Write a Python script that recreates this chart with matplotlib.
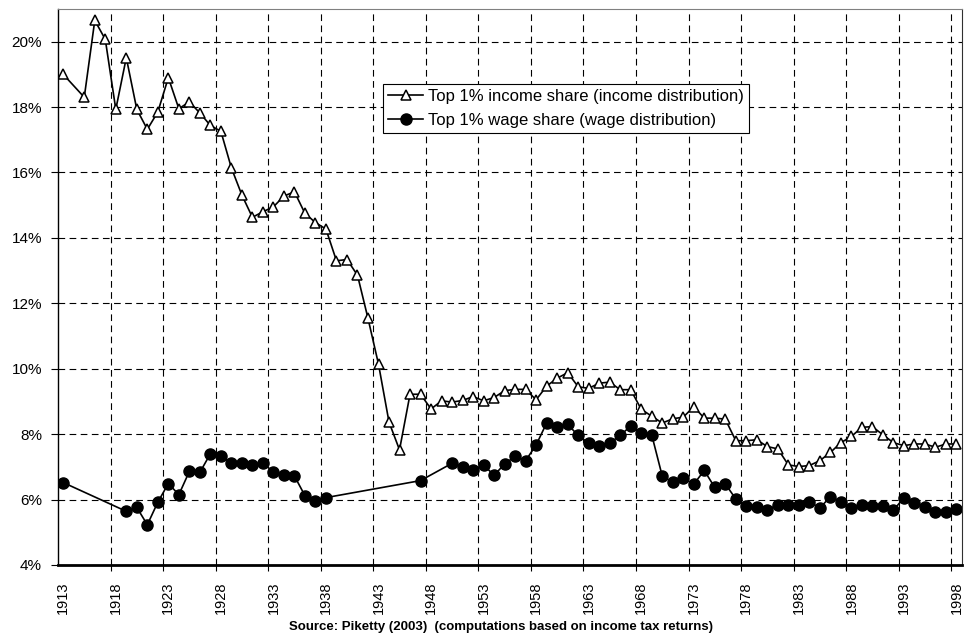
import numpy as np
import matplotlib.pyplot as plt
from matplotlib.ticker import FuncFormatter

plt.rcParams['font.family'] = ['Liberation Sans', 'DejaVu Sans']

# Top 1% income share (income distribution), in %
income_years = [1913] + list(range(1915, 1999))
income_share = [19.00, 18.30, 20.65, 20.07, 17.93, 19.51, 17.93, 17.32, 17.85, 18.90,
                17.95, 18.16, 17.82, 17.44, 17.26, 16.14, 15.31, 14.63, 14.80, 14.95,
                15.28, 15.41, 14.75, 14.47, 14.27, 13.30, 13.34, 12.86, 11.54, 10.14,
                8.37, 7.52, 9.22, 9.22, 8.77, 9.02, 8.98, 9.03, 9.15, 9.02,
                9.12, 9.33, 9.37, 9.37, 9.05, 9.47, 9.71, 9.88, 9.45, 9.40,
                9.56, 9.59, 9.36, 9.36, 8.76, 8.55, 8.34, 8.47, 8.52, 8.84,
                8.49, 8.49, 8.46, 7.80, 7.80, 7.83, 7.62, 7.55, 7.06, 7.01,
                7.04, 7.19, 7.44, 7.74, 7.93, 8.21, 8.23, 7.98, 7.74, 7.65,
                7.70, 7.70, 7.60, 7.70, 7.70]

# Top 1% wage share (wage distribution), in %
wage_years = ([1913] + list(range(1919, 1939)) + [1947] + list(range(1950, 1999)))
wage_share = [6.52,
              5.64, 5.76, 5.23, 5.92, 6.49, 6.15, 6.86, 6.83, 7.40, 7.34,
              7.12, 7.13, 7.05, 7.12, 6.84, 6.74, 6.72, 6.12, 5.96, 6.06,
              6.58,
              7.11, 7.01, 6.91, 7.06, 6.74, 7.09, 7.32, 7.19, 7.67, 8.34,
              8.23, 8.30, 7.96, 7.73, 7.64, 7.73, 7.96, 8.25, 8.05, 7.98,
              6.72, 6.53, 6.66, 6.47, 6.89, 6.37, 6.48, 6.02, 5.81, 5.77,
              5.69, 5.84, 5.84, 5.84, 5.94, 5.74, 6.09, 5.94, 5.74, 5.84,
              5.79, 5.80, 5.67, 6.06, 5.89, 5.77, 5.62, 5.62, 5.71]

year_labels = list(range(1913, 1999, 5))

fig = plt.figure(figsize=(9.65, 6.4), dpi=100)
ax = fig.add_axes([0.0601, 0.1172, 0.9365, 0.8688])

ax.plot(income_years, income_share, color='black', lw=1.2, marker='^', ms=7.5,
        mfc='white', mec='black', mew=1.1, label='Top 1% income share (income distribution)')
ax.plot(wage_years, wage_share, color='black', lw=1.2, marker='o', ms=8,
        mfc='black', mec='black', label='Top 1% wage share (wage distribution)')

ax.set_xlim(1912.5, 1998.5)
ax.set_ylim(4, 21)

# labels at category centres, grid lines between categories
ax.set_xticks(year_labels)
ax.set_xticklabels([str(y) for y in year_labels], rotation=90)
ax.tick_params(axis='x', which='major', length=0, pad=12, labelsize=10.5)
ax.set_xticks(np.arange(1917.5, 1998, 5), minor=True)
ax.tick_params(axis='x', which='minor', length=4, width=0.8, direction='out')

ax.set_yticks(np.arange(4, 21, 2))
ax.yaxis.set_major_formatter(FuncFormatter(lambda v, p: f'{v:.0f}%'))
ax.tick_params(axis='y', length=5, width=0.8, pad=6.5, labelsize=11)

ax.grid(True, axis='x', which='minor', color='black', lw=0.8, linestyle=(0, (6, 4)))
ax.grid(True, axis='y', which='major', color='black', lw=0.8, linestyle=(0, (6, 4)))
ax.set_axisbelow(True)

ax.spines['left'].set_linewidth(1.0)
ax.spines['bottom'].set_linewidth(2.0)
ax.spines['top'].set_color('#808080')
ax.spines['right'].set_color('#303030')

leg = ax.legend(loc='upper left', bbox_to_anchor=(0.36, 0.865), borderaxespad=0,
                fontsize=12, fancybox=False, framealpha=1, edgecolor='black',
                handlelength=2.1, handletextpad=0.3, labelspacing=0.55,
                borderpad=0.3)
leg.get_frame().set_linewidth(0.8)

fig.text(0.519, 0.021, 'Source: Piketty (2003)  (computations based on income tax returns)',
         ha='center', va='center', fontsize=9.5, fontweight='bold')

fig.savefig('out.png', dpi=100)
